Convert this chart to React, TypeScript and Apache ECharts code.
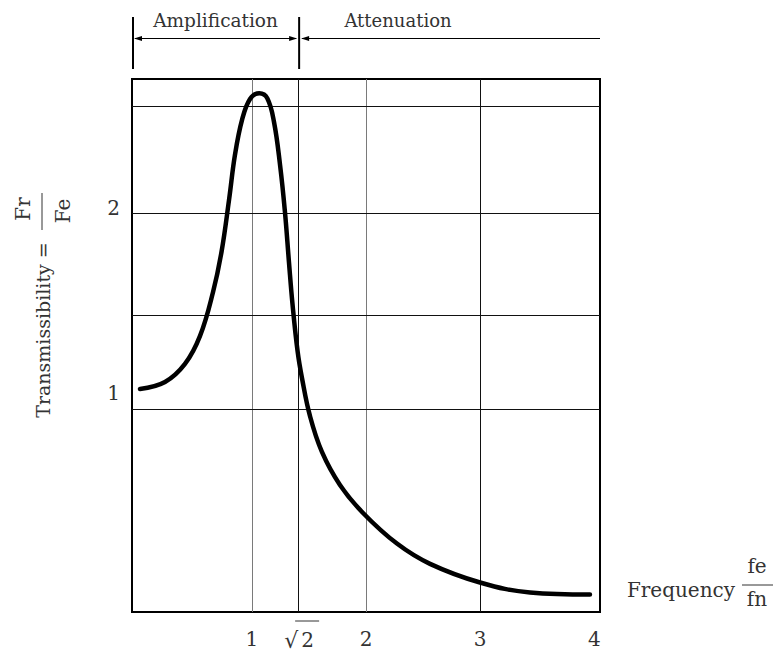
import React, { useEffect, useRef } from "react";
import * as echarts from "echarts";

// Frequency ratio fe/fn (x) and transmissibility Fr/Fe (y)
const freqRatio = [
  0.02, 0.239, 0.414, 0.546, 0.66, 0.734, 0.8, 0.852, 0.914, 0.984, 1.065,
  1.135, 1.194, 1.247, 1.29, 1.325, 1.356, 1.401, 1.439, 1.509, 1.614, 1.772, 1.974, 2.271, 2.561,
  2.999, 3.437, 3.962,
];
const transmissibility = [
  1.019, 1.057, 1.155, 1.307, 1.545, 1.762, 2.044, 2.288, 2.478, 2.592, 2.623,
  2.596, 2.467, 2.234, 1.979, 1.708, 1.48, 1.222, 1.079, 0.873, 0.678, 0.499, 0.347, 0.181, 0.071,
  -0.03, -0.084, -0.095,
];

const xTickValues = [1, Math.SQRT2, 2, 3, 4];
const yTickValues = [1, 2];
const xGridValues = [1, Math.SQRT2, 2, 3];
const xGridGray = [true, false, true, false];
const yGridValues = [0.905, 1.421, 1.968, 2.549];

const X_MIN = -0.05;
const X_MAX = 4.05;
const Y_MIN = -0.19;
const Y_MAX = 2.7;

const FONT = "DejaVu Serif";
const TXT = "#333";

export default function App() {
  const ref = useRef<HTMLDivElement>(null);

  useEffect(() => {
    if (!ref.current) return;
    const chart = echarts.init(ref.current, null, { renderer: "svg" });

    const gridMarks = [
      ...xGridValues.map((v, i) => ({
        xAxis: v,
        lineStyle: { color: xGridGray[i] ? "#7a7a7a" : "#111", width: 1, type: "solid" },
      })),
      ...yGridValues.map((v) => ({
        yAxis: v,
        lineStyle: { color: "#111", width: 1, type: "solid" },
      })),
    ];

    chart.setOption({
      animation: false,
      grid: {
        left: 132,
        right: 174,
        top: 79,
        bottom: 39,
        show: true,
        borderColor: "#000",
        borderWidth: 2,
        backgroundColor: "transparent",
      },
      xAxis: {
        type: "value",
        min: X_MIN,
        max: X_MAX,
        axisLine: { show: false },
        axisTick: { show: false },
        splitLine: { show: false },
        axisLabel: {
          customValues: xTickValues,
          margin: 17,
          fontFamily: FONT,
          fontSize: 20,
          color: TXT,
          formatter: (v: number) =>
            Math.abs(v - Math.SQRT2) < 1e-6 ? "{r|√}{s|2}" : String(Math.round(v)),
          rich: {
            r: { fontFamily: FONT, fontSize: 22, color: TXT },
            s: { fontFamily: FONT, fontSize: 20, color: TXT, padding: [0, 0, 0, 3] },
          },
        },
      },
      yAxis: {
        type: "value",
        min: Y_MIN,
        max: Y_MAX,
        axisLine: { show: false },
        axisTick: { show: false },
        splitLine: { show: false },
        axisLabel: {
          customValues: yTickValues,
          margin: 12,
          fontFamily: FONT,
          fontSize: 20,
          color: TXT,
        },
      },
      series: [
        {
          type: "line",
          z: 1,
          data: [],
          silent: true,
          markLine: {
            silent: true,
            symbol: ["none", "none"],
            label: { show: false },
            animation: false,
            data: gridMarks,
          },
        },
        {
          type: "line",
          z: 5,
          data: freqRatio.map((x, i) => [x, transmissibility[i]]),
          smooth: 0.4,
          showSymbol: false,
          silent: true,
          lineStyle: { color: "#000", width: 4.5, cap: "round", join: "round" },
        },
      ],
    });

    const px = (x: number, y: number) => chart.convertToPixel({ gridIndex: 0 }, [x, y]) as number[];
    const left = px(X_MIN, 0)[0];
    const right = px(X_MAX, 0)[0];
    const mid = px(Math.SQRT2, 0)[0];
    const bottomY = px(0, Y_MIN)[1];

    const barTop = 17;
    const barBot = 69;
    const arrowY = 38.5;
    const ah = 8;

    chart.setOption({
      graphic: [
        // top annotation
        { type: "line", shape: { x1: left + 1, y1: barTop, x2: left + 1, y2: barBot }, style: { stroke: "#000", lineWidth: 2 } },
        { type: "line", shape: { x1: mid, y1: barTop, x2: mid, y2: barBot }, style: { stroke: "#000", lineWidth: 2 } },
        { type: "line", shape: { x1: left + 3, y1: arrowY, x2: mid - 3, y2: arrowY }, style: { stroke: "#000", lineWidth: 1 } },
        { type: "polygon", shape: { points: [[left + 2, arrowY], [left + 2 + ah, arrowY - 2.5], [left + 2 + ah, arrowY + 2.5]] }, style: { fill: "#000" } },
        { type: "polygon", shape: { points: [[mid - 2, arrowY], [mid - 2 - ah, arrowY - 2.5], [mid - 2 - ah, arrowY + 2.5]] }, style: { fill: "#000" } },
        { type: "line", shape: { x1: mid + 3, y1: arrowY, x2: right, y2: arrowY }, style: { stroke: "#000", lineWidth: 1 } },
        { type: "polygon", shape: { points: [[mid + 2, arrowY], [mid + 2 + ah, arrowY - 2.5], [mid + 2 + ah, arrowY + 2.5]] }, style: { fill: "#000" } },
        { type: "text", x: (left + mid) / 2, y: 20, style: { text: "Amplification", font: `18.5px "${FONT}"`, fill: TXT, align: "center", verticalAlign: "middle" } },
        { type: "text", x: 398, y: 20, style: { text: "Attenuation", font: `18px "${FONT}"`, fill: TXT, align: "center", verticalAlign: "middle" } },
        // sqrt vinculum
        { type: "line", shape: { x1: mid - 4, y1: 621, x2: mid + 20, y2: 621 }, style: { stroke: TXT, lineWidth: 1 } },
        // y axis title
        { type: "text", x: 43, y: 330, rotation: Math.PI / 2, style: { text: "Transmissibility =", font: `19px "${FONT}"`, fill: TXT, align: "center", verticalAlign: "middle" } },
        { type: "text", x: 23, y: 209, rotation: Math.PI / 2, style: { text: "Fr", font: `20px "${FONT}"`, fill: TXT, align: "center", verticalAlign: "middle" } },
        { type: "line", shape: { x1: 42, y1: 193, x2: 42, y2: 230 }, style: { stroke: TXT, lineWidth: 1 } },
        { type: "text", x: 63, y: 211, rotation: Math.PI / 2, style: { text: "Fe", font: `20px "${FONT}"`, fill: TXT, align: "center", verticalAlign: "middle" } },
        // x axis title
        { type: "text", x: 681, y: bottomY - 22, style: { text: "Frequency", font: `20px "${FONT}"`, fill: TXT, align: "center", verticalAlign: "middle" } },
        { type: "text", x: 757, y: bottomY - 46, style: { text: "fe", font: `20px "${FONT}"`, fill: TXT, align: "center", verticalAlign: "middle" } },
        { type: "line", shape: { x1: 742, y1: bottomY - 27, x2: 773, y2: bottomY - 27 }, style: { stroke: TXT, lineWidth: 1 } },
        { type: "text", x: 757, y: bottomY - 13, style: { text: "fn", font: `20px "${FONT}"`, fill: TXT, align: "center", verticalAlign: "middle" } },
      ],
    });

    return () => chart.dispose();
  }, []);

  return <div ref={ref} style={{ position: "absolute", left: 0, top: 0, width: 774, height: 651 }} />;
}
